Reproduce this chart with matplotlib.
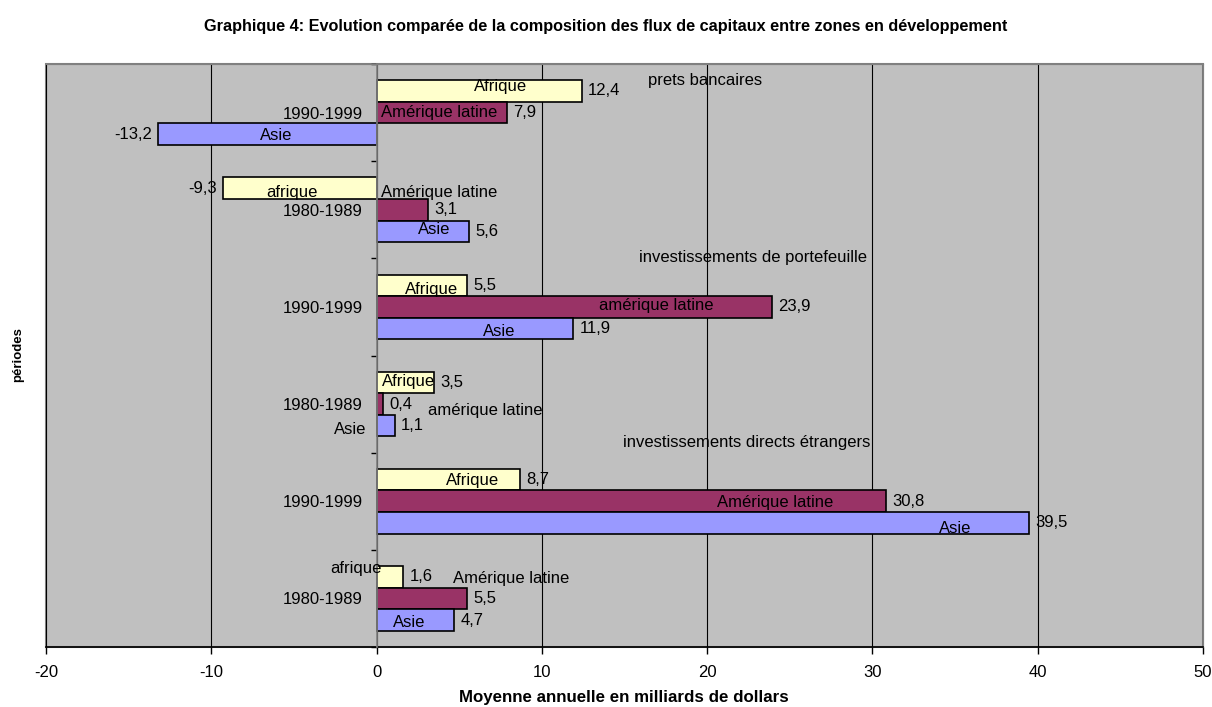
import matplotlib.pyplot as plt
import numpy as np
from matplotlib.patches import Rectangle

plt.rcParams['font.family'] = ['Liberation Sans', 'DejaVu Sans']
plt.rcParams['axes.unicode_minus'] = False

# categories, bottom to top
periodes = ['1980-1989', '1990-1999', '1980-1989', '1990-1999', '1980-1989', '1990-1999']
afrique = [1.6, 8.7, 3.5, 5.5, -9.3, 12.4]
amerique = [5.5, 30.8, 0.4, 23.9, 3.1, 7.9]
asie = [4.7, 39.5, 1.1, 11.9, 5.6, -13.2]

series = [afrique, amerique, asie]
couleurs = ['#FFFFCC', '#993366', '#9999FF']

# free text labels placed by hand on the chart (text, x, y, ha)
etiquettes = [
    ('Afrique', 7.5, 5.27, 'center'),
    ('Amérique latine', 3.8, 5.0, 'center'),
    ('Asie', -6.1, 4.76, 'center'),
    ('prets bancaires', 19.9, 5.33, 'center'),
    ('afrique', -5.1, 4.18, 'center'),
    ('Amérique latine', 0.25, 4.18, 'left'),
    ('Asie', 3.5, 3.80, 'center'),
    ('investissements de portefeuille', 15.9, 3.51, 'left'),
    ('Afrique', 3.3, 3.18, 'center'),
    ('amérique latine', 16.9, 3.01, 'center'),
    ('Asie', 7.4, 2.75, 'center'),
    ('Afrique', 0.3, 2.23, 'left'),
    ('amérique latine', 3.1, 1.93, 'left'),
    ('Asie', -0.6, 1.74, 'right'),
    ('investissements directs étrangers', 14.9, 1.60, 'left'),
    ('Afrique', 5.8, 1.21, 'center'),
    ('Amérique latine', 24.1, 0.99, 'center'),
    ('Asie', 35.0, 0.72, 'center'),
    ('afrique', 0.3, 0.31, 'right'),
    ('Amérique latine', 4.6, 0.21, 'left'),
    ('Asie', 1.95, -0.25, 'center'),
]

fig = plt.figure(figsize=(12.12, 7.07), dpi=100)
ax = fig.add_axes([0.03795, 0.08487, 0.9546, 0.8246])
ax.set_facecolor('#C0C0C0')

w = 1 / 4.5
y = np.arange(len(periodes))
offsets = [w, 0, -w]
for vals, col, off in zip(series, couleurs, offsets):
    bars = ax.barh(y + off, vals, height=w, color=col, edgecolor='black',
                   linewidth=1.2, zorder=3)
    for b, v in zip(bars, vals):
        txt = f'{v:.1f}'.replace('.', ',')
        yc = b.get_y() + b.get_height() / 2
        if v >= 0:
            ax.annotate(txt, (v, yc), xytext=(4.5, 0), textcoords='offset points',
                        ha='left', va='center', fontsize=12, zorder=5)
        else:
            ax.annotate(txt, (v, yc), xytext=(-4.5, 0), textcoords='offset points',
                        ha='right', va='center', fontsize=12, zorder=5)

for t, xx, yy, ha in etiquettes:
    ax.text(xx, yy, t, ha=ha, va='center', fontsize=12, zorder=6)

ax.set_xlim(-20, 50)
ax.set_ylim(-0.5, len(periodes) - 0.5)
ax.set_xticks(np.arange(-20, 51, 10))
ax.tick_params(axis='x', direction='out', length=5, width=1, labelsize=12, pad=8)
ax.grid(axis='x', color='black', linewidth=0.8, zorder=1)

ax.set_yticks(y)
ax.set_yticklabels(periodes)
ax.set_yticks(np.arange(-0.5, len(periodes), 1), minor=True)
ax.tick_params(axis='y', which='major', length=0, pad=10, labelsize=12)
ax.tick_params(axis='y', which='minor', length=4, width=1, direction='out')

ax.spines['left'].set_position(('data', 0))
ax.spines['left'].set_color('#808080')
ax.spines['left'].set_linewidth(1.2)
ax.spines['left'].set_zorder(4)
ax.spines['bottom'].set_color('black')
ax.spines['bottom'].set_linewidth(1.2)
ax.spines['top'].set_color('#808080')
ax.spines['right'].set_color('#808080')
ax.add_patch(Rectangle((0, 0), 1, 1, transform=ax.transAxes, fill=False,
                       edgecolor='#808080', linewidth=1.5, zorder=0, clip_on=False))

fig.text(0.5, 0.963, 'Graphique 4: Evolution comparée de la composition des flux de capitaux entre zones en développement',
         ha='center', va='center', fontsize=11.7, fontweight='bold')
fig.text(0.515, 0.013, 'Moyenne annuelle en milliards de dollars',
         ha='center', va='center', fontsize=12.2, fontweight='bold')
fig.text(0.015, 0.498, 'périodes', rotation=90, ha='center', va='center',
         fontsize=9.5, fontweight='bold')

fig.savefig('out.png', dpi=100, facecolor='white')
